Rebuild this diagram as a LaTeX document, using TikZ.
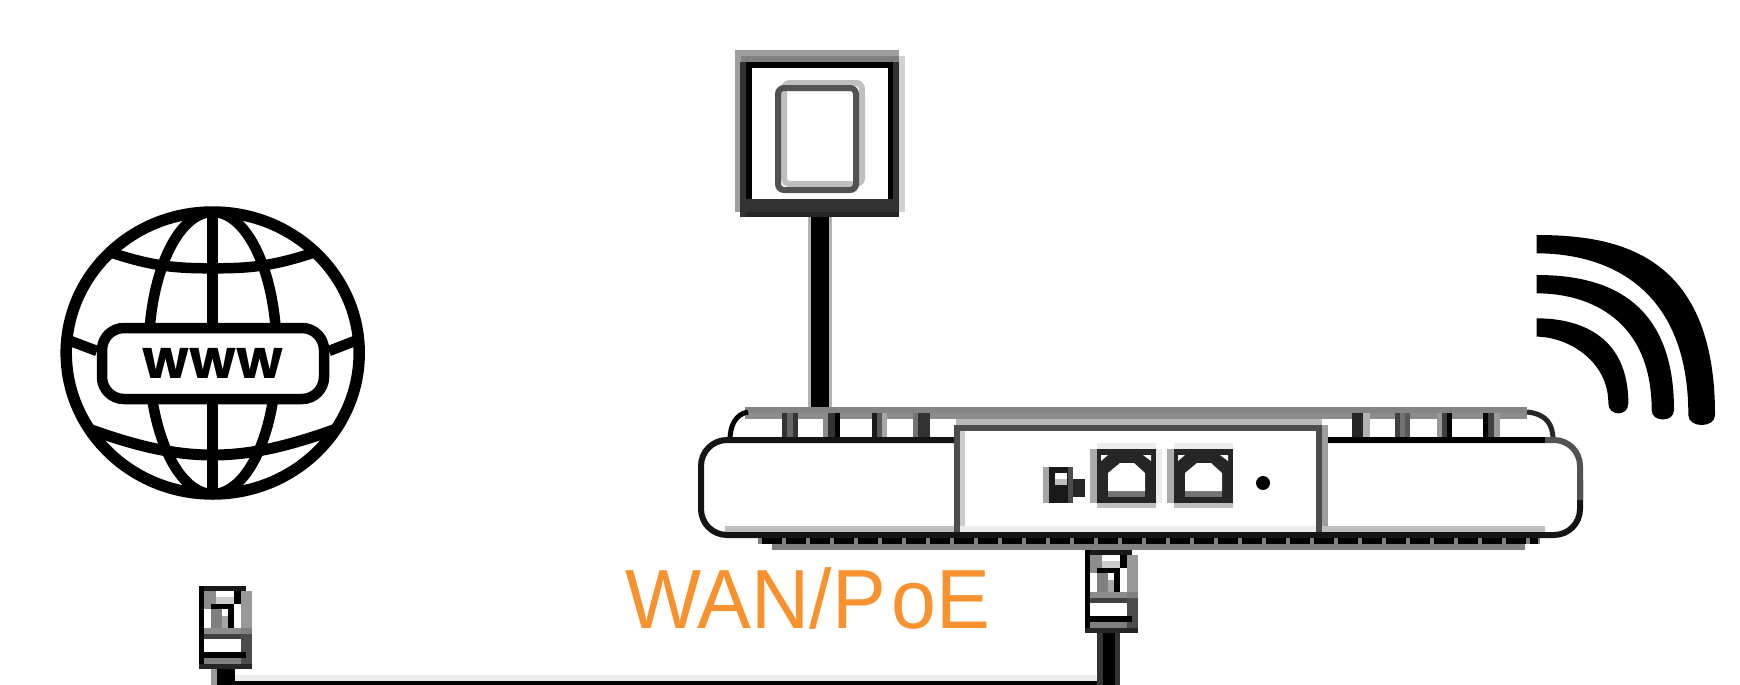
\documentclass[tikz,border=0pt]{standalone}
\usepackage{fontspec}
\setmainfont{Liberation Sans}
\newfontfamily\wwwfont{Poppins}
\definecolor{wanorange}{HTML}{F7922F}
\tikzset{
  px/.style={line width=#1*0.5pt},
  globeline/.style={draw=black,px=10.5},
}
\newcommand{\rc}[5]{\fill[#5] (#1,#2) rectangle (#3,#4);}
\begin{document}
\begin{tikzpicture}[x=0.5pt,y=-0.5pt]
\useasboundingbox (0,0) rectangle (1740,685);
\fill[white] (0,0) rectangle (1740,685);
\clip (0,0) rectangle (1740,685);
% ---- globe
\coordinate (gc) at (212.7,353);
\begin{scope}
  \clip (gc) ellipse [x radius=146.5,y radius=141];
  \draw[globeline] (gc) ellipse [x radius=64,y radius=141];
  \draw[globeline] (212.7,212) -- (212.7,494);
  \draw[globeline] (95,247) .. controls (150,267) and (175,268.3) .. (212.7,268.3) .. controls (250,268.3) and (275,267) .. (330,247);
  \draw[globeline,px=11] (70,422) .. controls (135,447) and (175,455) .. (212.7,455) .. controls (250,455) and (290,447) .. (355,422);
  \draw[globeline] (60,337) -- (97,351);
  \draw[globeline] (365,337) -- (329,351);
\end{scope}
\draw[globeline,px=11.5] (gc) ellipse [x radius=146.5,y radius=141];
\draw[globeline,fill=white,rounded corners=11pt] (102,328) rectangle (324,399);
\node[font=\wwwfont\bfseries\fontsize{27}{27}\selectfont,inner sep=0pt,anchor=center] (www) at (212.7,363) {www};
% ---- stem
\coordinate (stemtop) at (820,215);
\coordinate (stembot) at (820,408);
\draw[px=24,draw=black!30] (stemtop) -- (stembot);
\draw[px=18,draw=black] (stemtop) -- (stembot);
% ---- square
\fill[black!38] (735,50) rectangle (899,212);
\fill[black!18] (899,56) rectangle (905,212);
\fill[black!50] (741,56) rectangle (899,62);
\fill[black!80] (740,62) rectangle (899,217);
\fill[black] (746,62) rectangle (893,68);
\fill[black] (746,68) rectangle (752,199);
\fill[black] (888,68) rectangle (893,199);
\fill[black!85] (746,212) rectangle (899,217);
\fill[white] (752,68) rectangle (888,199);
\draw[draw=black!25,px=6,rounded corners=3pt] (784,83) rectangle (862,184);
\draw[draw=black!68,px=6,rounded corners=3pt] (778,88) rectangle (856,190);
% ---- device
\node[inner sep=0pt,minimum size=0pt] (device) at (1140,470) {};
\fill[black!48] (745,407) rectangle (1527,413);
\fill[black!45] (745,413) rectangle (1527,419);
\fill[black!27] (956,419) rectangle (1322,425);
\draw[px=5,black] (730,440) .. controls (730,425) and (736,414) .. (748,412);
\draw[px=5,black!85] (1553,440) .. controls (1553,425) and (1547,414) .. (1527,412);
% ticks left
\rc{782}{413}{787}{437}{black!80}\rc{787}{413}{793}{437}{black!60}\rc{793}{413}{798}{437}{black!80}
\rc{823}{413}{828}{437}{black!45}\rc{828}{413}{835}{437}{black!80}\rc{835}{413}{840}{437}{black}
\rc{872}{413}{877}{437}{black!90}\rc{877}{413}{882}{437}{black!65}\rc{882}{413}{887}{437}{black!35}
\rc{913}{413}{918}{437}{black!55}\rc{918}{413}{930}{437}{black!80}
% ticks right
\rc{1352}{413}{1363}{437}{black!85}\rc{1363}{413}{1370}{437}{black!30}
\rc{1395}{413}{1400}{437}{black!75}\rc{1400}{413}{1405}{437}{black!55}\rc{1405}{413}{1410}{437}{black!65}
\rc{1437}{413}{1442}{437}{black!40}\rc{1442}{413}{1447}{437}{black!75}\rc{1447}{413}{1452}{437}{black}
\rc{1483}{413}{1488}{437}{black}\rc{1488}{413}{1494}{437}{black!75}\rc{1494}{413}{1500}{437}{black!40}
% inner shadow rows
\fill[black!25] (725,526) rectangle (1545,532);
\fill[black!7] (960,526) rectangle (1322,532);
% body outline
\draw[px=6,black!92,rounded corners=13pt] (956,440) -- (701,440) -- (701,535) -- (1100,535);
\draw[px=6,black!92,rounded corners=13pt] (1100,535) -- (1580,535) -- (1580,480);
\draw[px=6,black!68,rounded corners=13pt] (1580,500) -- (1580,440) -- (1320,440);
\draw[px=6,black] (1320,440) -- (1545,440);
\draw[px=6,black!92] (1100,535) -- (1545,535);
% dotted row and lower band
\fill[black!50] (758,538) rectangle (1540,544);
\draw[px=6,black,dash pattern=on 10pt off 2pt] (762,541) -- (1538,541);
\fill[black!50] (772,544) rectangle (1525,550);
% panel
\fill[black!70] (954,425) rectangle (1322,431);
\fill[black!70] (954,425) rectangle (960,532);
\fill[black!70] (1316,425) rectangle (1322,532);
\fill[black!20] (960,431) rectangle (965,526);
\fill[black!38] (1322,425) rectangle (1328,526);
% lock
\rc{1043}{467}{1049}{503}{black!35}
\rc{1049}{467}{1073}{503}{black!90}
\rc{1068}{467}{1073}{503}{black!70}
\rc{1055}{473}{1067}{479}{white}
\rc{1055}{479}{1067}{485}{black!25}
\rc{1073}{479}{1085}{497}{black!85}
% ports
\foreach \dx/\pname in {0/portA,77/portB}{
  \begin{scope}[xshift=\dx*0.5pt]
    \fill[black!33] (1090,449) rectangle (1097,503);
    \fill[black!7] (1097,443) rectangle (1156,449);
    \fill[black!25] (1097,503) rectangle (1156,508);
    \fill[black!85] (1097,449) rectangle (1156,503);
    \fill[black!55] (1108,491) rectangle (1145,497);
    \fill[white] (1108,491) -- (1108,473) -- (1120,463) -- (1134,463) -- (1145,473) -- (1145,491) -- cycle;
    \fill[white] (1101,455) -- (1108,455) -- (1101,461) -- cycle;
    \fill[white] (1143,455) -- (1151,455) -- (1151,461) -- cycle;
    \coordinate (\pname) at (1126,476);
  \end{scope}
}
\fill[black!7] (1156,449) rectangle (1162,503);
\fill[white] (1233,449) rectangle (1240,503);
% dot
\node[circle,fill=black,inner sep=0pt,minimum size=7pt] (dot) at (1263,483) {};
% ---- wifi (points read in the 3x crop frame)
\begin{scope}[shift={(1520,220)},x=0.16667pt,y=-0.16667pt]
  \fill[black] (50,45) .. controls (300,45) and (585,105) .. (585,585)
    .. controls (585,625) and (505,625) .. (505,585)
    .. controls (505,200) and (260,100) .. (50,100) -- cycle;
  \fill[black] (50,165) .. controls (240,165) and (462,225) .. (462,570)
    .. controls (462,608) and (395,608) .. (395,570)
    .. controls (395,300) and (210,220) .. (50,220) -- cycle;
  \fill[black] (50,295) .. controls (190,295) and (325,355) .. (325,550)
    .. controls (325,590) and (265,590) .. (265,550)
    .. controls (265,420) and (140,350) .. (50,350) -- cycle;
\end{scope}
% ---- WAN/PoE
\node[font=\fontsize{42}{42}\selectfont,text=wanorange,inner sep=0pt,anchor=base west] (wan) at (625,628) {\scalebox{0.96}[1]{W\kern-2pt AN/P\kern3pt oE}};
% ---- cables
\coordinate (plugLb) at (223,668);
\coordinate (plugRb) at (1108.5,630);
\coordinate (cableL) at (223,687);
\coordinate (cableR) at (1108.5,687);
\fill[black!7] (235,675) rectangle (1097,681);
\draw[px=12,black] (cableL) -- (cableR);
\draw[px=23,black!80] (plugRb) -- (cableR);
\draw[px=12,black] (plugRb) -- (cableR);
\fill[black!40] (211,668) rectangle (217,685);
\fill[black] (217,668) rectangle (235,685);
% ---- plugs
\foreach \dx/\dy/\name in {0/0/plugR,-886/36/plugL}{
  \begin{scope}[shift={(\dx,\dy)}]
    \coordinate (\name) at (1110,590);
    \rc{1085}{550}{1132}{555}{black!90}
    \rc{1127}{555}{1138}{592}{black!40}
    \rc{1085}{550}{1090}{628}{black}
    \rc{1090}{555}{1102}{592}{black!45}
    \rc{1102}{555}{1120}{561}{white}
    \rc{1102}{561}{1120}{568}{black!20}
    \rc{1120}{555}{1127}{568}{black}
    \rc{1097}{568}{1120}{573}{black}
    \rc{1114}{573}{1120}{592}{black}
    \rc{1097}{573}{1108}{592}{black!50}
    \rc{1108}{573}{1114}{580}{white}
    \rc{1108}{580}{1114}{592}{black!35}
    \rc{1090}{573}{1097}{592}{white}
    \rc{1120}{573}{1127}{592}{white}
    \rc{1090}{592}{1127}{598}{black!45}
    \rc{1127}{592}{1138}{598}{black!50}
    \rc{1090}{598}{1132}{603}{black!75}
    \rc{1127}{598}{1138}{628}{black!70}
    \rc{1090}{603}{1127}{616}{white}
    \rc{1090}{616}{1132}{622}{black}
    \rc{1090}{622}{1127}{628}{black!50}
    \rc{1085}{628}{1138}{633}{black!85}
  \end{scope}
}
\end{tikzpicture}
\end{document}
